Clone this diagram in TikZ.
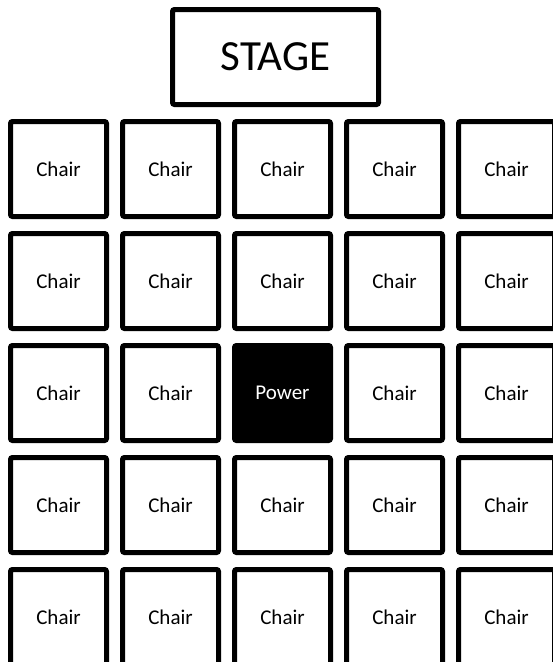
\documentclass[tikz,border=0pt]{standalone}
\usepackage{fontspec}
\setmainfont{Carlito}
\begin{document}
\begin{tikzpicture}[x=1pt,y=-1pt,
  seat/.style={draw=black,line width=5pt,rounded corners=2pt,minimum width=96pt,minimum height=95pt,inner sep=0pt,font=\fontsize{21}{24}\selectfont,fill=white},
  powerseat/.style={seat,fill=black,text=white},
  stagebox/.style={draw=black,line width=5pt,rounded corners=2pt,minimum width=206pt,minimum height=95pt,inner sep=0pt,font=\fontsize{43}{50}\selectfont}]
\useasboundingbox (0,0) rectangle (553,662);
\clip (0,0) rectangle (553,662);
\node[stagebox] (stage) at (275.5,57) {\raisebox{-3pt}{STAGE}\hspace{8pt}};
\foreach \r in {0,...,4}{
  \foreach \c in {0,...,4}{
    \pgfmathtruncatemacro{\isp}{(\r==2 && \c==2) ? 1 : 0}
    \ifnum\isp=1
      \node[powerseat] (s-\r-\c) at ({58.5+112*\c},{169+112*\r}) {Power};
    \else
      \node[seat] (s-\r-\c) at ({58.5+112*\c},{169+112*\r}) {Chair};
    \fi
  }
}
\end{tikzpicture}
\end{document}
